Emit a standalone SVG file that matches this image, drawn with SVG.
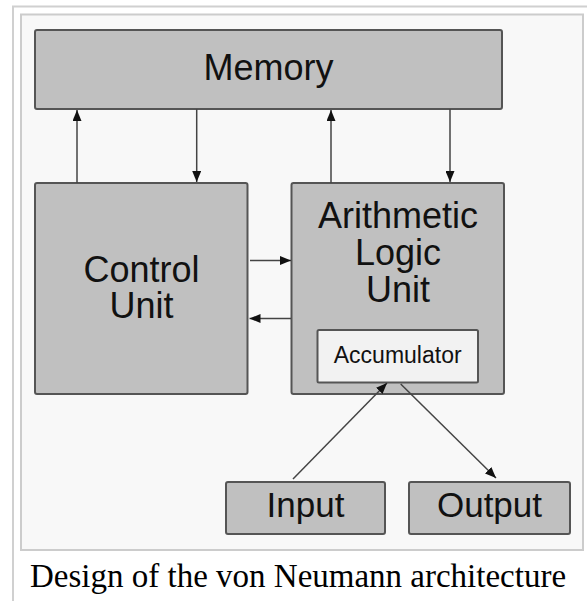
<svg xmlns="http://www.w3.org/2000/svg" width="587" height="601" viewBox="0 0 587 601">
  <style>
    .box { fill: #c0c0c0; stroke: #555555; stroke-width: 2; }
    .acc { fill: #f2f2f2; stroke: #555555; stroke-width: 2; }
    .lbl { font-family: "Liberation Sans", Arial, Helvetica, sans-serif; fill: #111111; text-anchor: middle; }
    .big { font-size: 36px; }
    .io { font-size: 35px; }
    .small { font-size: 23px; }
    .conn { stroke: #444444; stroke-width: 1.5; fill: none; marker-end: url(#arrow); }
    .caption { font-family: "Liberation Serif", "Times New Roman", serif; font-size: 33px; fill: #000000; }
  </style>
  <defs>
    <marker id="arrow" viewBox="0 0 11 9" refX="11" refY="4.5" markerWidth="11" markerHeight="9" markerUnits="userSpaceOnUse" orient="auto">
      <path d="M0,0 L11,4.5 L0,9 z" fill="#111111"/>
    </marker>
  </defs>

  <rect x="0" y="0" width="587" height="601" fill="#ffffff"/>
  <rect x="13" y="6.5" width="600" height="620" fill="#ffffff" stroke="#d0d0d0" stroke-width="2"/>
  <rect x="21" y="14.5" width="562" height="535.5" fill="#f8f8f8" stroke="#cccccc" stroke-width="2"/>

  <g id="memory">
    <rect class="box" x="35" y="30" width="467" height="79" rx="2"/>
    <text class="lbl big" x="268.5" y="80">Memory</text>
  </g>

  <g id="control-unit">
    <rect class="box" x="35" y="183" width="212.5" height="211" rx="2"/>
    <text class="lbl big" x="141.5" y="281.7">Control</text>
    <text class="lbl big" x="141.5" y="318.3">Unit</text>
  </g>

  <g id="alu">
    <rect class="box" x="291.5" y="183" width="212.5" height="211" rx="2"/>
    <text class="lbl big" x="398" y="228">Arithmetic</text>
    <text class="lbl big" x="398" y="265">Logic</text>
    <text class="lbl big" x="398" y="302">Unit</text>
  </g>

  <g id="accumulator">
    <rect class="acc" x="317.5" y="330" width="160.5" height="52.5" rx="1.5"/>
    <text class="lbl small" x="397.7" y="363.3">Accumulator</text>
  </g>

  <g id="input">
    <rect class="box" x="226" y="482" width="159" height="52" rx="2"/>
    <text class="lbl io" x="305.5" y="517">Input</text>
  </g>

  <g id="output">
    <rect class="box" x="409" y="482" width="161" height="52" rx="2"/>
    <text class="lbl io" x="489.5" y="517">Output</text>
  </g>

  <g id="connectors">
    <path class="conn" d="M77,183 L77,110"/>
    <path class="conn" d="M196.7,109 L196.7,182"/>
    <path class="conn" d="M331,183 L331,110"/>
    <path class="conn" d="M450,109 L450,182"/>
    <path class="conn" d="M250,260.5 L291,260.5"/>
    <path class="conn" d="M291,318.5 L249.5,318.5"/>
    <path class="conn" d="M293,479 L387,383"/>
    <path class="conn" d="M400.7,384 L496,478"/>
  </g>

  <text class="caption" x="30" y="587">Design of the von Neumann architecture</text>
</svg>
